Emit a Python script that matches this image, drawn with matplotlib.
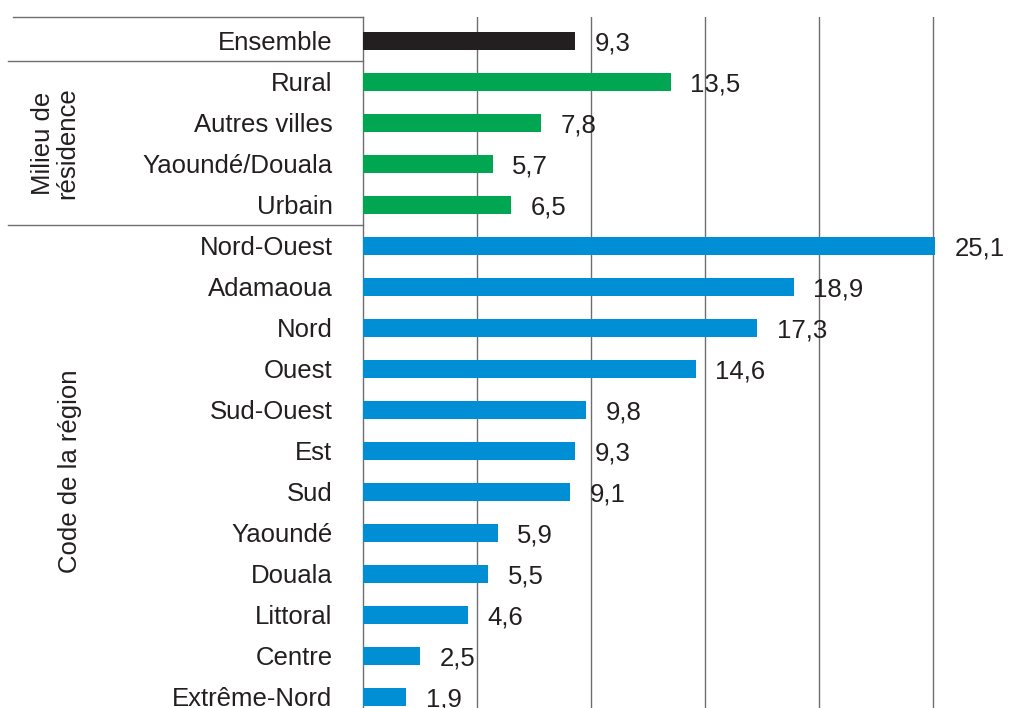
import matplotlib; matplotlib.use("Agg")
import matplotlib.pyplot as plt
import matplotlib.transforms as mtransforms

plt.rcParams["font.family"] = ["Liberation Sans", "DejaVu Sans"]

labels = ["Ensemble", "Rural", "Autres villes", "Yaoundé/Douala", "Urbain",
          "Nord-Ouest", "Adamaoua", "Nord", "Ouest", "Sud-Ouest", "Est", "Sud",
          "Yaoundé", "Douala", "Littoral", "Centre", "Extrême-Nord"]
values = [9.3, 13.5, 7.8, 5.7, 6.5,
          25.1, 18.9, 17.3, 14.6, 9.8, 9.3, 9.1, 5.9, 5.5, 4.6, 2.5, 1.9]
groups = ["all"] + ["milieu"] * 4 + ["region"] * 12
GROUP_COLOR = {"all": "#231f20", "milieu": "#00a651", "region": "#008fd5"}
TXT = "#231f20"; LINE = "#6d6e71"
FS = 18.5

W, H = 1031, 708
fig = plt.figure(figsize=(W / 100, H / 100), dpi=100)
x0, ytop = 363, 17
ax = fig.add_axes([x0 / W, 0, (W - x0) / W, (H - ytop) / H])

ypos = list(range(len(labels)))
ax.barh(ypos, values, height=0.46, color=[GROUP_COLOR[g] for g in groups], zorder=3)
for y, v in zip(ypos, values):
    ax.annotate(f"{v:.1f}".replace(".", ","), (v, y), xytext=(14, -2), textcoords="offset points",
                ha="left", va="center", fontsize=FS, color=TXT, zorder=4)

ax.set_xlim(0, (W - x0) / 22.8)
ax.set_ylim(16.27, -0.585)
ax.set_xticks([5, 10, 15, 20, 25]); ax.set_xticklabels([])
ax.tick_params(axis="x", length=0)
ax.grid(axis="x", color=LINE, lw=1, zorder=1)
ax.set_yticks(ypos); ax.set_yticklabels(labels, fontsize=FS, color=TXT)
ax.tick_params(axis="y", length=0, pad=22)
for s in ("top", "right", "bottom"):
    ax.spines[s].set_visible(False)
ax.spines["left"].set_color(LINE); ax.spines["left"].set_linewidth(1)

# left-panel frame lines
axw = W - x0
tr = mtransforms.blended_transform_factory(ax.transAxes, ax.transData)
for yy, xs in ((-0.585, 13), (0.5, 8), (4.5, 8)):
    ax.plot([(xs - x0) / axw, 0], [yy, yy], color=LINE, lw=1, transform=tr, clip_on=False)

# group labels
ax.text((55 - x0) / axw, 2.5, "Milieu de\nrésidence", rotation=90, ha="center", va="center",
        fontsize=FS, color=TXT, transform=tr, linespacing=1.0)
ax.text((70 - x0) / axw, 10.5, "Code de la région", rotation=90, ha="center", va="center",
        fontsize=FS, color=TXT, transform=tr)

fig.savefig("out.png", dpi=100)
